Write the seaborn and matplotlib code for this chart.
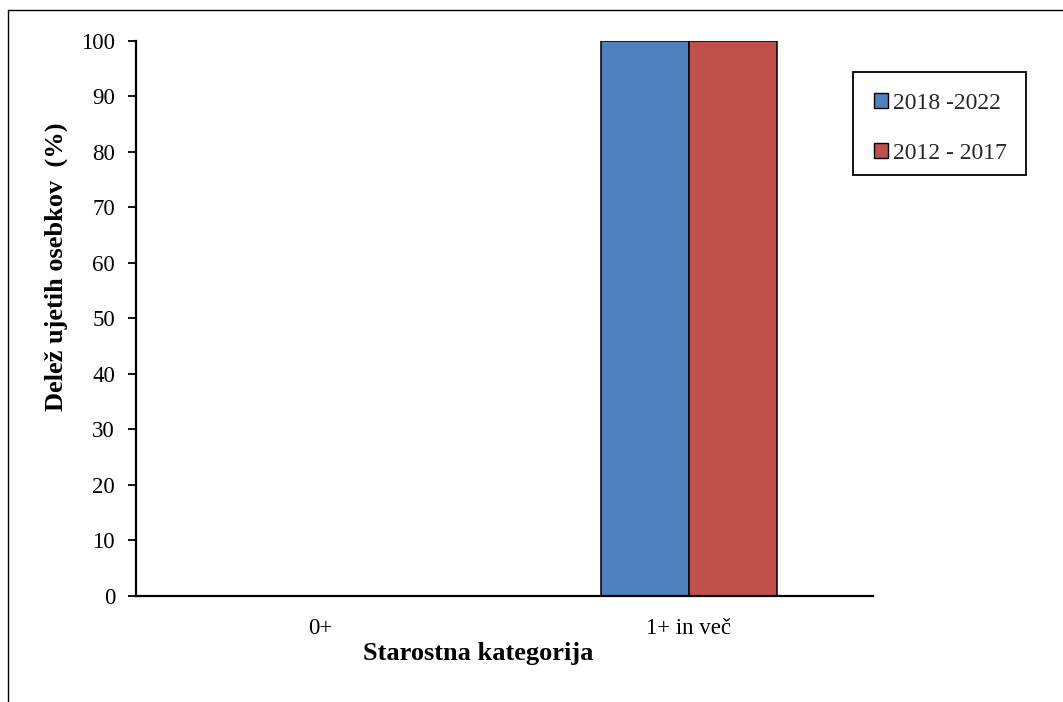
import matplotlib
matplotlib.use("Agg")
import matplotlib.pyplot as plt
from matplotlib.lines import Line2D
from matplotlib.patches import Patch, Rectangle
import pandas as pd
import seaborn as sns

# Data
categories = ["0+", "1+ in več"]
periods = ["2018 -2022", "2012 - 2017"]
share_2018_2022 = [0, 100]
share_2012_2017 = [0, 100]
colors = ["#4F81BD", "#C0504D"]

df = pd.DataFrame({
    "kategorija": categories * 2,
    "obdobje": [periods[0]] * 2 + [periods[1]] * 2,
    "delez": share_2018_2022 + share_2012_2017,
})

sns.set_theme(style="white")
plt.rcParams["font.family"] = ["Liberation Serif", "DejaVu Serif"]

W, H = 1063, 702
fig = plt.figure(figsize=(W / 100, H / 100), dpi=100)
ax = fig.add_axes([0.1279, 0.151, 0.6933, 0.7906])

sns.barplot(data=df, x="kategorija", y="delez", hue="obdobje",
            palette=colors, order=categories, hue_order=periods,
            width=0.478, saturation=1, edgecolor="black", linewidth=1.1,
            ax=ax, legend=False)

ax.set_ylim(0, 100)
ax.set_xlim(-0.5, 1.5)
ax.set_yticks(range(0, 101, 10))
ax.tick_params(axis="y", direction="out", length=6, width=1.3, pad=9,
               labelsize=16.5, colors="black", left=True)
ax.tick_params(axis="x", length=0, pad=16, labelsize=16.5, colors="black")

for side in ["top", "right"]:
    ax.spines[side].set_visible(False)
for side in ["left", "bottom"]:
    ax.spines[side].set_color("black")
    ax.spines[side].set_linewidth(1.6)

ax.set_ylabel("Delež ujetih osebkov  (%)", fontsize=19, fontweight="bold",
              color="black")
ax.yaxis.set_label_coords(-0.092, 0.593)
ax.set_xlabel("Starostna kategorija", fontsize=19, fontweight="bold",
              color="black")
ax.xaxis.set_label_coords(0.465, -0.082)

# Legend entries, with a plain rectangular frame around them
handles = [Patch(facecolor=c, edgecolor="black", linewidth=1.0) for c in colors]
leg = fig.legend(handles, periods, loc="upper left",
                 bbox_to_anchor=(853 / W, 1 - 72 / H),
                 frameon=False, fontsize=17, handlelength=0.6,
                 handleheight=0.6, handletextpad=0.2, labelspacing=1.2,
                 borderpad=0.9, borderaxespad=0)
fig.add_artist(Rectangle((853 / W, 1 - 175 / H), (1026 - 853) / W, 103 / H,
                         transform=fig.transFigure, fill=False,
                         edgecolor="black", linewidth=1.3))

# Outer chart frame (top and left edges)
fig.add_artist(Line2D([8 / W, 1.0], [1 - 10 / H, 1 - 10 / H],
                      color="black", linewidth=1.0, transform=fig.transFigure))
fig.add_artist(Line2D([8 / W, 8 / W], [0, 1 - 10 / H],
                      color="black", linewidth=1.0, transform=fig.transFigure))

fig.savefig("out.png", dpi=100, facecolor="white")
